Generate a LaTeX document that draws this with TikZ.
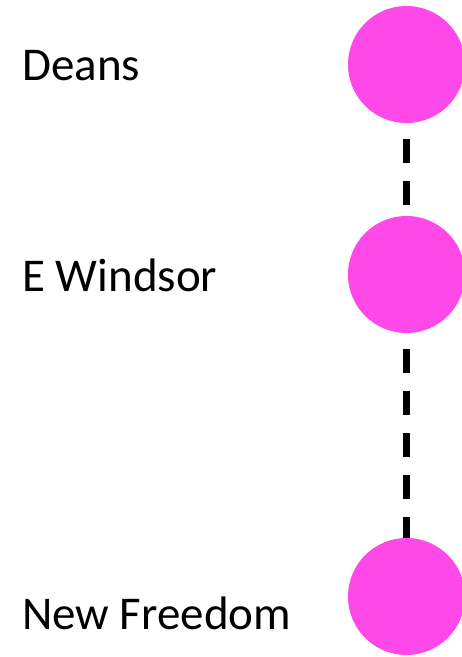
\documentclass[tikz,border=0pt]{standalone}
\usepackage{fontspec}
\setmainfont{Carlito}
\usetikzlibrary{positioning}
\definecolor{rosa}{RGB}{255,72,232}

\begin{document}
\begin{tikzpicture}[x=1pt,y=-1pt,
  parada/.style={circle,fill=rosa,minimum size=117pt,inner sep=0pt},
  nombre/.style={anchor=base west,inner sep=0pt,font=\fontsize{47}{56}\selectfont},
  tramo/.style={line width=6.3pt,dash pattern=on 24pt off 18pt,dash phase=26.3pt}]
%marco con el tamano de la figura
\useasboundingbox (0,0) rectangle (462,657);

%Paradas de la linea
\node[parada] (deans) at (406.5,64.5) {};
\node[parada] (ewindsor) at (406.5,274.5) {};
\node[parada] (newfreedom) at (406.5,596.5) {};

%Nombres de las paradas
\node[nombre] (tdeans) at (22,80) {Deans};
\node[nombre] (tewindsor) at (22,291) {E Windsor};
\node[nombre] (tnewfreedom) at (22,629.3) {New Freedom};

%Tramos discontinuos entre paradas
\draw[tramo] (deans.south) -- (ewindsor.north);
\draw[tramo] (ewindsor.south) -- (newfreedom.north);
\end{tikzpicture}
\end{document}
